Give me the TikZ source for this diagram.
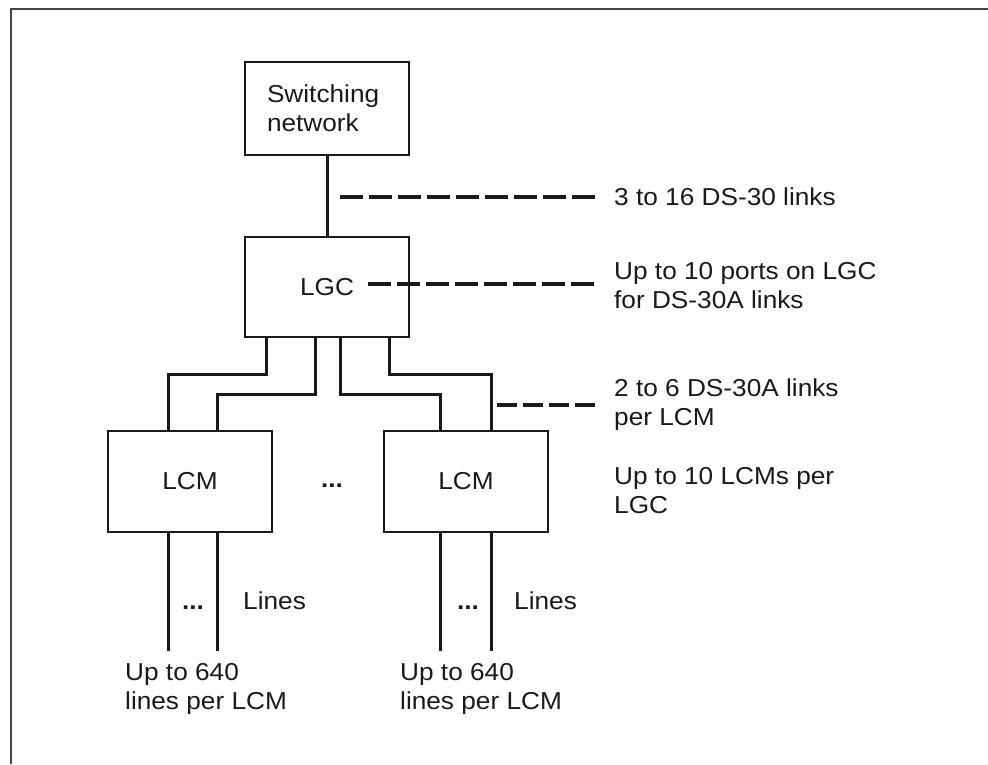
\documentclass[tikz,border=0pt]{standalone}
\usepackage{fontspec}
\setmainfont{Liberation Sans}[FakeStretch=1.07]
\definecolor{ink}{HTML}{1A1A1A}
\definecolor{framec}{HTML}{444444}
\begin{document}
\begin{tikzpicture}[x=1pt,y=-1pt,
  every node/.style={font=\fontsize{24.5}{29}\selectfont, text=ink},
  box/.style={draw=ink, line width=1.6pt, minimum width=164pt, inner sep=0pt},
  conn/.style={draw=ink, line width=3pt},
  dashline/.style={draw=ink, line width=3.2pt, dash pattern=on 23pt off 6pt},
  lab/.style={anchor=base west, inner sep=0pt},
  mlab/.style={anchor=west, inner sep=0pt, align=left},
  dots/.style={anchor=base, inner sep=0pt, font=\fontsize{24.5}{29}\selectfont\bfseries}]
\useasboundingbox (0,0) rectangle (988,764);
\draw[framec, line width=1.4pt] (11,764) -- (11,9) -- (988,9);

% boxes
\node[box, minimum height=93pt, align=left, text width=120pt, inner xsep=0pt] (sn) at (327,108.5) {Switching\\network};
\node[box, minimum height=100pt] (lgc) at (327,287) {LGC};
\node[box, minimum height=101pt] (lcm1) at (190,481.5) {LCM};
\node[box, minimum height=101pt] (lcm2) at (466,481.5) {LCM};
\node[dots] (mdots) at (332,487) {...};

% connectors
\draw[conn] (sn) -- (lgc);
\draw[conn] ([xshift=22pt]lgc.south west) -- ++(0,37) -| ([xshift=61pt]lcm1.north west);
\draw[conn] ([xshift=71pt]lgc.south west) -- ++(0,57) -| ([xshift=110pt]lcm1.north west);
\draw[conn] ([xshift=96pt]lgc.south west) -- ++(0,57) -| ([xshift=57pt]lcm2.north west);
\draw[conn] ([xshift=145pt]lgc.south west) -- ++(0,37) -| ([xshift=108pt]lcm2.north west);

% lines below LCMs
\draw[conn] ([xshift=61pt]lcm1.south west) -- ++(0,118);
\draw[conn] ([xshift=110pt]lcm1.south west) -- ++(0,118);
\draw[conn] ([xshift=57pt]lcm2.south west) -- ++(0,118);
\draw[conn] ([xshift=108pt]lcm2.south west) -- ++(0,118);
\node[dots] (d1) at (193,609) {...};
\node[dots] (d2) at (468,609) {...};
\node[lab] (lines1) at (243,609) {Lines};
\node[lab] (lines2) at (514,609) {Lines};
\node[mlab] (up1) at (125,689) {Up to 640\\lines per LCM};
\node[mlab] (up2) at (400,689) {Up to 640\\lines per LCM};

% right-hand labels
\node[lab] (t1) at (614,205) {3 to 16 DS-30 links};
\node[mlab] (t2) at (614,285.5) {Up to 10 ports on LGC\\for DS-30A links};
\node[mlab] (t3) at (614,405) {2 to 6 DS-30A links\\per LCM};
\node[mlab] (t4) at (614,490.5) {Up to 10 LCMs per\\LGC};

% dashed leaders
\coordinate (a1) at (340,197);
\coordinate (b1) at (595,197);
\coordinate (a2) at (368,284);
\coordinate (b2) at (595,284);
\coordinate (a3) at (497,405);
\coordinate (b3) at (595,405);
\draw[dashline] (a1) -- (b1);
\draw[dashline] (a2) -- (b2);
\draw[dashline, dash pattern=on 20pt off 6pt] (a3) -- (b3);
\end{tikzpicture}
\end{document}
